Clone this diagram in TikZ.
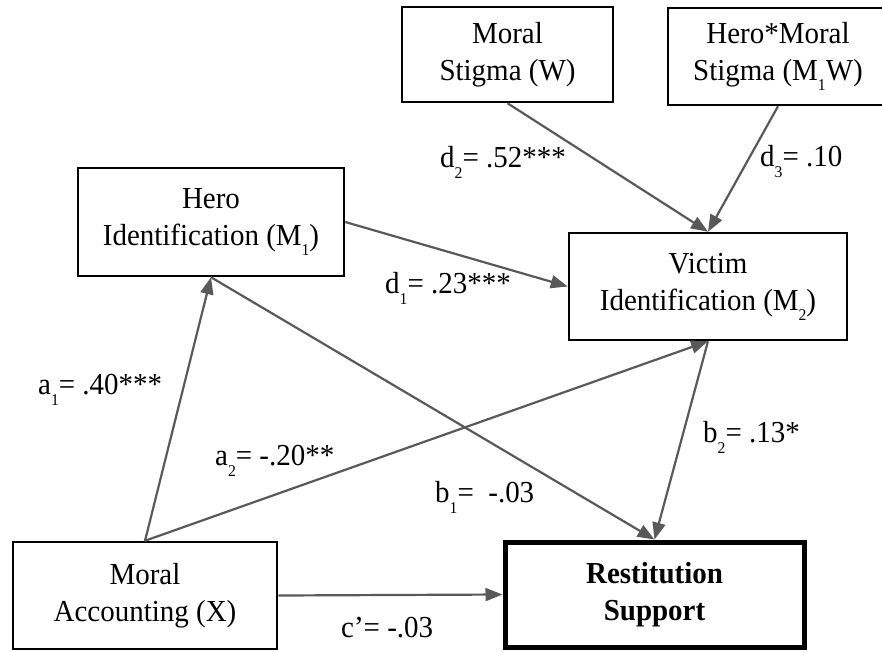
\documentclass[tikz,border=0pt]{standalone}
\usepackage{fontspec}
\setmainfont{Liberation Serif}[FakeStretch=0.95]
\usetikzlibrary{arrows.meta}
\definecolor{pathgray}{RGB}{89,89,89}
% lowered index used in variable names and coefficients
\newcommand\lsub[1]{\raisebox{-11pt}{\fontsize{16.5}{16.5}\selectfont #1}}
\newcommand\bsub[1]{\raisebox{-10pt}{\fontsize{16.5}{16.5}\selectfont #1}}
\begin{document}
\begin{tikzpicture}[x=1pt,y=-1pt,
  font=\fontsize{30.5}{37}\selectfont,
  var/.style={draw=black, line width=2.5pt, align=center, inner sep=0pt},
  outcome/.style={var, line width=5pt, font=\fontsize{30.5}{37}\selectfont\bfseries},
  conn/.style={draw=pathgray, line width=2.2pt, -{Triangle[length=17pt,width=13pt]}},
  coef/.style={anchor=base west, inner sep=0pt}]
\path[use as bounding box, clip] (0,0) rectangle (882,651);

% variables
\node[var, minimum width=211pt, minimum height=95pt] (W) at (507.5,54.5) {Moral\\Stigma (W)};
\node[var, minimum width=220pt, minimum height=97pt] (MW) at (778,56.5) {Hero*Moral\\Stigma (M\bsub{1}W)};
\node[var, minimum width=266pt, minimum height=108pt] (M1) at (211,222) {Hero\\Identification (M\bsub{1})};
\node[var, minimum width=278pt, minimum height=107pt] (M2) at (708,286.5) {Victim\\Identification (M\bsub{2})};
\node[var, minimum width=264pt, minimum height=107pt] (X) at (145,595.5) {Moral\\Accounting (X)};
\node[outcome, minimum width=299pt, minimum height=105pt] (Y) at (654.5,594.5) {Restitution\\Support};

% paths
\draw[conn] (X.north) -- (M1.south);
\draw[conn] (X.north) -- (M2.south);
\draw[conn] (M1.south) -- (Y.north);
\draw[conn] (M2.south) -- (Y.north);
\draw[conn] (M1.east) -- (M2.west);
\draw[conn] (W.south) -- (M2.north);
\draw[conn] (MW.south) -- (M2.north);
\draw[conn] (X.east) -- (Y.west);

% coefficients
\node[coef] (ca1) at (38,394) {a\lsub{1}= .40***};
\node[coef] (ca2) at (215,465) {a\lsub{2}= -.20**};
\node[coef] (cb1) at (435,502) {b\lsub{1}=\ \ -.03};
\node[coef] (cb2) at (703,442) {b\lsub{2}= .13*};
\node[coef] (cd1) at (385,293) {d\lsub{1}= .23***};
\node[coef] (cd2) at (440,167) {d\lsub{2}= .52***};
\node[coef] (cd3) at (760,166) {d\lsub{3}= .10};
\node[coef] (cc) at (341,637) {c’= -.03};
\end{tikzpicture}
\end{document}
